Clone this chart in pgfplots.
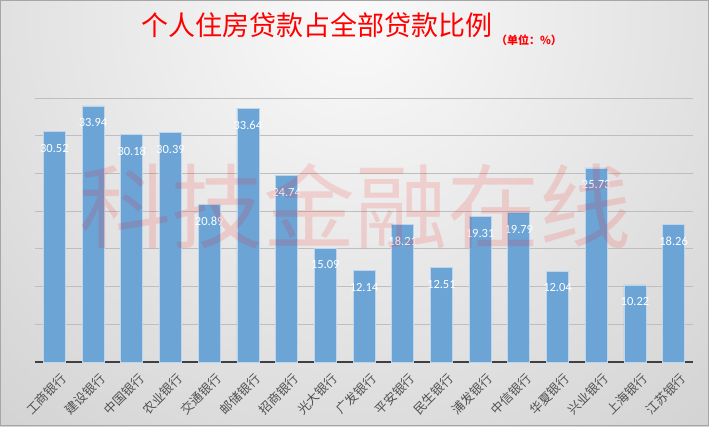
\documentclass[border=0pt]{standalone}
\usepackage{pgfplots}
\pgfplotsset{compat=1.18}
\usepackage{fontspec}
\setmainfont{Carlito}
\newfontfamily\cjk{Noto Sans CJK SC}
\definecolor{barblue}{RGB}{108,164,214}
\definecolor{gridgray}{RGB}{190,190,190}
\definecolor{axisdark}{RGB}{64,64,64}
\definecolor{lblgray}{RGB}{80,80,80}
\begin{document}
\begin{tikzpicture}[x=1pt,y=1pt]
\useasboundingbox (0,0) rectangle (709,426);
\begin{scope}
\clip (0,0) rectangle (709,426);
\shade[inner color=black!2, outer color=black!30] (354,410) circle (1000);
\end{scope}
\draw[black!35, line width=1pt] (0.5,0.5) rectangle (708.5,425.5);
\begin{axis}[
  at={(35pt,64pt)}, anchor=south west,
  scale only axis, width=658pt, height=264pt,
  xmin=-0.5, xmax=16.5, ymin=0, ymax=35,
  ybar, bar width=22pt,
  axis x line*=bottom, axis y line*=left,
  x axis line style={draw=axisdark, line width=2pt},
  y axis line style={draw=none},
  ytick={5,10,15,20,25,30,35}, yticklabels={},
  ymajorgrids, grid style={draw=gridgray, line width=0.8pt},
  major tick style={draw=none},
  xtick={0,...,16},
  xticklabels={工商银行,建设银行,中国银行,农业银行,交通银行,邮储银行,招商银行,光大银行,广发银行,平安银行,民生银行,浦发银行,中信银行,华夏银行,兴业银行,上海银行,江苏银行},
  xticklabel style={font=\cjk\fontsize{12.5}{14}\selectfont, text=lblgray, rotate=45, anchor=east, xshift=1pt, yshift=-14pt, inner sep=1pt},
  nodes near coords,
  every node near coord/.append style={font=\fontsize{12.5}{14}\selectfont, text=white, anchor=north, yshift=-9pt},
  nodes near coords style={/pgf/number format/.cd, fixed, fixed zerofill, precision=2, assume math mode=true},
  clip=false,
]
\addplot[fill=barblue, draw=white!55!barblue, line width=0.7pt] coordinates {
(0,30.52) (1,33.94) (2,30.18) (3,30.39) (4,20.89) (5,33.64) (6,24.74) (7,15.09) (8,12.14)
(9,18.21) (10,12.51) (11,19.31) (12,19.79) (13,12.04) (14,25.73) (15,10.22) (16,18.26)};
\end{axis}
\node[font=\cjk\fontsize{92}{92}\selectfont, text=red, opacity=0.13] at (355,220) {科技金融在线};
\node[font=\cjk\fontsize{27}{30}\selectfont, text=red] at (317,401) {个人住房贷款占全部贷款比例};
\node[font=\cjk\bfseries\fontsize{11}{12}\selectfont, text=red] at (529,386) {（单位：\%）};
\end{tikzpicture}
\end{document}
